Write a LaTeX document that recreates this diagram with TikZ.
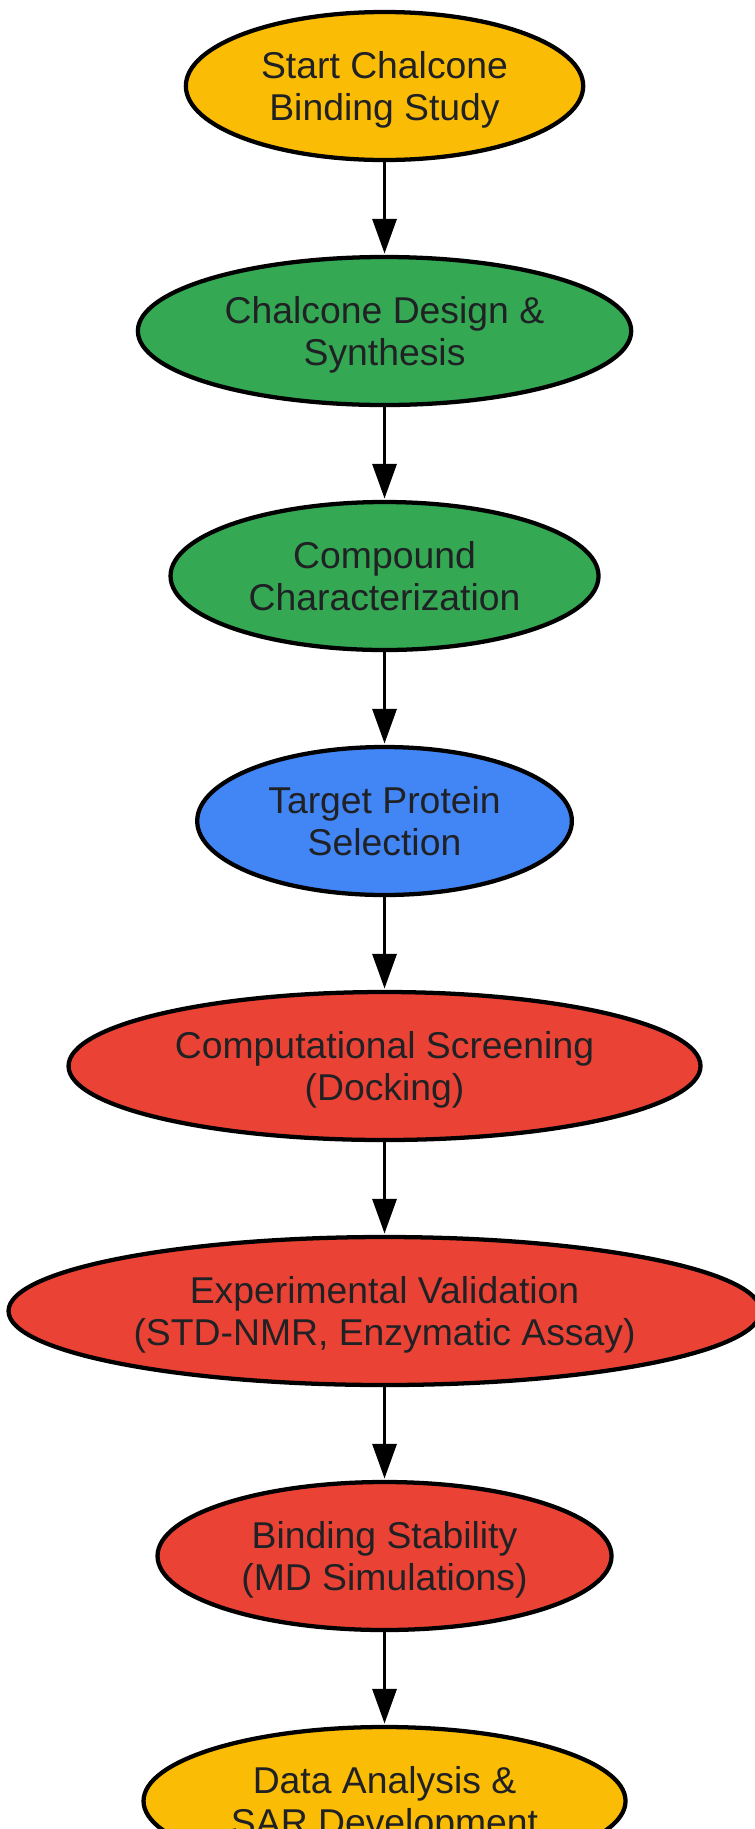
\documentclass[tikz,border=0pt]{standalone}
\usepackage{fontspec}
\setmainfont{Liberation Sans}
\usepackage{tikz}
\usetikzlibrary{arrows.meta,shapes.geometric}

\definecolor{ink}{HTML}{202124}
\definecolor{gyellow}{HTML}{FBBC05}
\definecolor{ggreen}{HTML}{34A853}
\definecolor{gblue}{HTML}{4285F4}
\definecolor{gred}{HTML}{EA4335}

\begin{document}
\begin{tikzpicture}[->,>={Triangle[length=26pt,width=18pt]},shorten >=1pt,node distance=183.75pt,
                    line width=2.4pt,
                    state/.style={ellipse,draw,line width=3.2pt,text=ink,align=center,inner sep=0pt,
                                  minimum height=111pt,text depth=-6.5pt,font=\fontsize{28}{32}\selectfont},
                    yellowstate/.style={state,fill=gyellow},
                    greenstate/.style={state,fill=ggreen},
                    bluestate/.style={state,fill=gblue},
                    redstate/.style={state,fill=gred}]

  \useasboundingbox (0,0) rectangle (565.5pt,-1371.75pt);

  \node[yellowstate, minimum width=298pt] (start) at (288.4pt,-64.5pt) {Start Chalcone\\Binding Study};
  \node[greenstate, minimum width=370pt]  (design) [below of=start]  {Chalcone Design \&\\Synthesis};
  \node[greenstate, minimum width=321pt]  (charac) [below of=design] {Compound\\Characterization};
  \node[bluestate, minimum width=281pt]   (target) [below of=charac] {Target Protein\\Selection};

  \node[redstate, minimum width=474pt]   (dock)  [below of=target] {Computational Screening\\(Docking)};
  \node[redstate, minimum width=564pt]   (valid) [below of=dock]   {Experimental Validation\\(STD-NMR, Enzymatic Assay)};
  \node[redstate, minimum width=340.5pt] (md)    [below of=valid]  {Binding Stability\\(MD Simulations)};

  \node[yellowstate, minimum width=361.5pt] (sar) [below of=md] {Data Analysis \&\\SAR Development};

  \path (start)  edge (design);
  \path (design) edge (charac);
  \path (charac) edge (target);
  \path (target) edge (dock);
  \path (dock)   edge (valid);
  \path (valid)  edge (md);
  \path (md)     edge (sar);

\end{tikzpicture}
\end{document}
